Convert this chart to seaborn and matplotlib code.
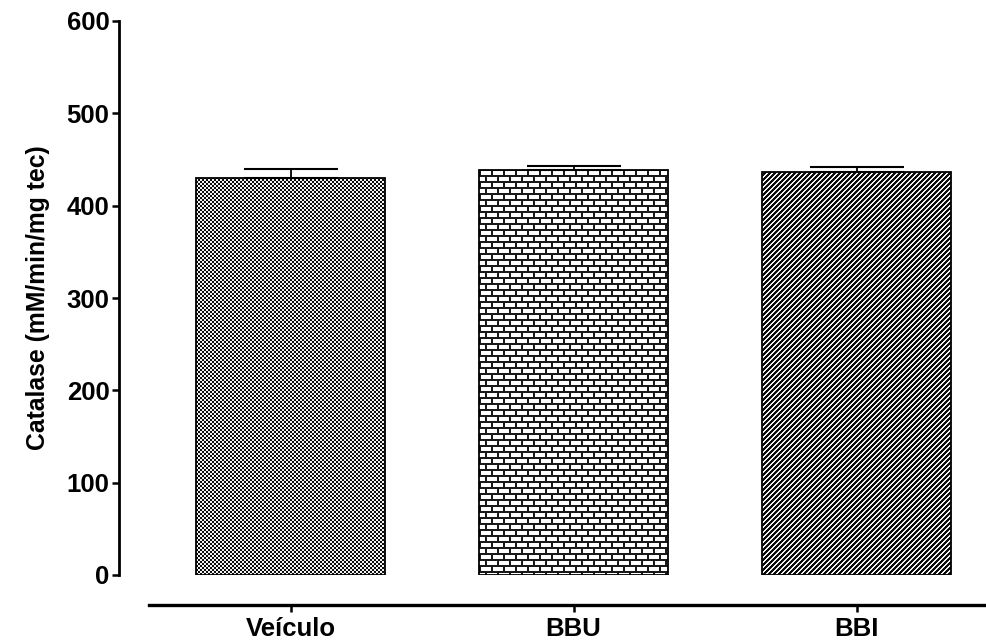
import numpy as np
import pandas as pd
import matplotlib
matplotlib.use("Agg")
import matplotlib.pyplot as plt
from matplotlib import font_manager as fm
import seaborn as sns

# Catalase activity per group (mean and SEM)
groups = ["Veículo", "BBU", "BBI"]
means = [430, 439, 436]
sems = [10, 4.5, 6]
y_ticks = [0, 100, 200, 300, 400, 500, 600]

sns.set_theme(style="white")

# Pick the regular-width Arial-metric bold face
bold_path = None
for f in fm.findSystemFonts():
    if f.endswith("LiberationSans-Bold.ttf"):
        bold_path = f
        break
if bold_path:
    fm.fontManager.addfont(bold_path)
    bold_name = fm.FontProperties(fname=bold_path).get_name()
else:
    bold_name = "DejaVu Sans"
plt.rcParams["font.family"] = [bold_name, "DejaVu Sans"]
plt.rcParams["font.weight"] = "bold"


def fp(size):
    if bold_path:
        return fm.FontProperties(fname=bold_path, size=size)
    return fm.FontProperties(family="DejaVu Sans", weight="bold", size=size)


W, H = 987, 643
fig = plt.figure(figsize=(W / 100, H / 100), dpi=100, facecolor="white")
ax = fig.add_axes([149 / W, 68 / H, 849 / W, 554 / H])
ax.patch.set_visible(False)

df = pd.DataFrame({"grupo": groups, "catalase": means})
sns.barplot(data=df, x="grupo", y="catalase", ax=ax, width=0.667,
            color="white", edgecolor="black", linewidth=1.3,
            errorbar=None, zorder=2)
for p in ax.patches:
    p.set_facecolor("none")

ax.errorbar(np.arange(len(groups)), means,
            yerr=[np.zeros(len(sems)), sems], fmt="none",
            ecolor="black", elinewidth=1.3, capsize=34, capthick=1.5,
            zorder=3)

ax.set_xlim(-0.5, 2.5)
ax.set_ylim(0, 600)
fig.canvas.draw()


def checker(h, w):
    yy, xx = np.mgrid[0:h, 0:w]
    return np.where(((xx // 2) + (yy // 2)) % 2 == 0, 0.05, 0.95)


def bricks(h, w):
    yy, xx = np.mgrid[0:h, 0:w]
    row = yy // 6
    shift = np.where(row % 2 == 0, 0, 6)
    horiz = (yy % 6) < 2
    vert = ((xx + shift) % 12) < 2
    return np.where(horiz | vert, 0.1, 1.0)


def stripes(h, w):
    yy, xx = np.mgrid[0:h, 0:w]
    return np.where((xx + yy) % 5 < 2, 0.95, 0.05)


# Pixel-exact fill textures, clipped to each bar
fills = [checker, bricks, stripes]
for patch, fill in zip(ax.patches, fills):
    bb = patch.get_window_extent()
    px0, py0 = int(np.floor(bb.x0)), int(np.floor(bb.y0))
    px1, py1 = int(np.ceil(bb.x1)), int(np.ceil(bb.y1))
    tex = fill(py1 - py0, px1 - px0)
    im = fig.figimage(tex, xo=px0, yo=py0, origin="upper", cmap="gray",
                      vmin=0, vmax=1, zorder=-1)
    im.set_clip_path(patch)

ax.set_yticks(y_ticks)

# Detached axes in the style of the original figure
for side in ["top", "right"]:
    ax.spines[side].set_visible(False)
ax.spines["left"].set_position(("outward", 21.5))
ax.spines["bottom"].set_position(("outward", 21.5))
ax.spines["left"].set_linewidth(2.0)
ax.spines["bottom"].set_linewidth(2.4)
ax.spines["left"].set_color("black")
ax.spines["bottom"].set_color("black")
ax.spines["left"].set_bounds(0, 600)

ax.tick_params(axis="both", which="major", direction="out", length=5,
               width=1.8, color="black", labelcolor="black",
               left=True, bottom=True)
ax.tick_params(axis="y", pad=2)
ax.tick_params(axis="x", pad=4)
ax.set_xlabel("")
ax.set_ylabel("Catalase (mM/min/mg tec)", fontproperties=fp(17.8),
              color="black", labelpad=12)
for lab in ax.get_xticklabels() + ax.get_yticklabels():
    lab.set_fontproperties(fp(18.5))

fig.savefig("out.png", dpi=100, facecolor="white")
